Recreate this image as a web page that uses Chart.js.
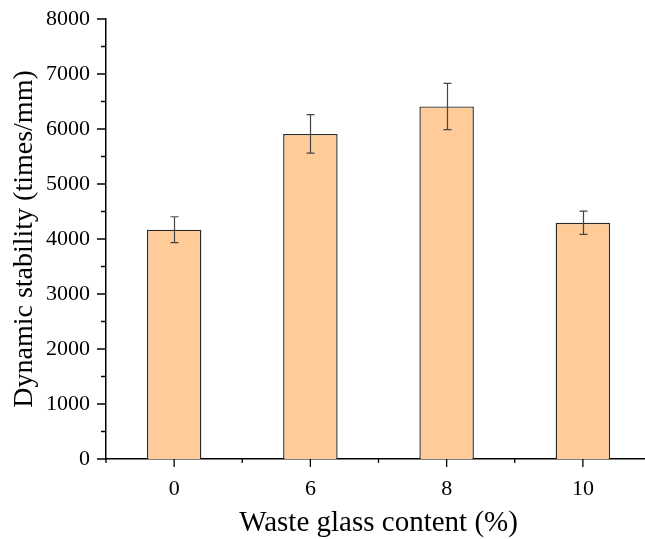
<!DOCTYPE html>
<html>
<head>
<meta charset="utf-8">
<script src="https://cdn.jsdelivr.net/npm/chart.js@4.4.0/dist/chart.umd.min.js"></script>
<style>
  html, body { margin: 0; padding: 0; background: #fff; overflow: hidden; }
  #wrap { width: 645px; height: 539px; overflow: hidden; }
</style>
</head>
<body>
<div id="wrap"><canvas id="chart" width="652" height="539"></canvas></div>
<script>
// data
const contents = ['0', '6', '8', '10'];
const stability = [4170, 5910, 6410, 4295];
const errors = [235, 350, 420, 211];
const yTicks = [0, 1000, 2000, 3000, 4000, 5000, 6000, 7000, 8000];

const serif = '"Liberation Serif", "Times New Roman", serif';

// error bars on top of each bar
const errorBars = {
    id: 'errorBars',
    afterDatasetsDraw(chart) {
        const ctx = chart.ctx;
        const y = chart.scales.y;
        const meta = chart.getDatasetMeta(0);
        ctx.save();
        ctx.strokeStyle = '#444';
        ctx.lineWidth = 1.2;
        meta.data.forEach((bar, i) => {
            const x = Math.round(bar.x) + 0.5;
            const top = y.getPixelForValue(stability[i] + errors[i]);
            const bot = y.getPixelForValue(stability[i] - errors[i]);
            ctx.beginPath();
            ctx.moveTo(x, top); ctx.lineTo(x, bot);
            ctx.moveTo(x - 4, top); ctx.lineTo(x + 4, top);
            ctx.moveTo(x - 4, bot); ctx.lineTo(x + 4, bot);
            ctx.stroke();
        });
        ctx.restore();
    }
};

// outward tick marks, major + minor
const axisTicks = {
    id: 'axisTicks',
    afterDraw(chart) {
        const ctx = chart.ctx;
        const { x, y } = chart.scales;
        const area = chart.chartArea;
        ctx.save();
        ctx.strokeStyle = '#000';
        ctx.lineWidth = 1.3;
        ctx.beginPath();
        for (let v = 0; v <= 8000; v += 500) {
            const py = y.getPixelForValue(v);
            const len = v % 1000 === 0 ? 9 : 5;
            ctx.moveTo(area.left, py); ctx.lineTo(area.left - len, py);
        }
        const step = (area.right - area.left) / contents.length;
        contents.forEach((c, i) => {
            const px = x.getPixelForValue(i);
            ctx.moveTo(px, area.bottom); ctx.lineTo(px, area.bottom + 8);
        });
        for (let i = 0; i <= contents.length; i++) {
            const px = area.left + i * step;
            ctx.moveTo(px, area.bottom); ctx.lineTo(px, area.bottom + 4);
        }
        ctx.stroke();
        ctx.restore();
    }
};

new Chart(document.getElementById('chart'), {
    type: 'bar',
    data: {
        labels: contents,
        datasets: [{
            data: stability,
            backgroundColor: '#FFCC99',
            borderColor: '#2a2a2a',
            borderWidth: 1.4,
            barPercentage: 0.8,
            categoryPercentage: 0.5
        }]
    },
    options: {
        responsive: false,
        animation: false,
        layout: { padding: { top: 17, right: 1, left: 0, bottom: 0 } },
        plugins: {
            legend: { display: false },
            tooltip: { enabled: false }
        },
        scales: {
            x: {
                grid: { display: false },
                border: { display: true, color: '#000', width: 1.5 },
                ticks: { color: '#000', padding: 9, font: { family: serif, size: 22 } },
                title: {
                    display: true,
                    text: 'Waste glass content (%)',
                    color: '#000',
                    font: { family: serif, size: 29, lineHeight: 1.1 },
                    padding: { top: 0, bottom: 0 }
                },
                afterFit(scale) { scale.height = 80; }
            },
            y: {
                min: 0,
                max: 8000,
                grid: { display: false },
                border: { display: true, color: '#000', width: 1.5 },
                afterBuildTicks(scale) { scale.ticks = yTicks.map(v => ({ value: v })); },
                ticks: {
                    color: '#000',
                    padding: 8,
                    font: { family: serif, size: 22, lineHeight: 1 },
                    callback: v => String(v)
                },
                title: {
                    display: true,
                    text: 'Dynamic stability (times/mm)',
                    color: '#000',
                    font: { family: serif, size: 28, lineHeight: 1 },
                    padding: { top: 11, bottom: 0 }
                },
                afterFit(scale) { scale.width = 106; }
            }
        }
    },
    plugins: [errorBars, axisTicks]
});
</script>
</body>
</html>
